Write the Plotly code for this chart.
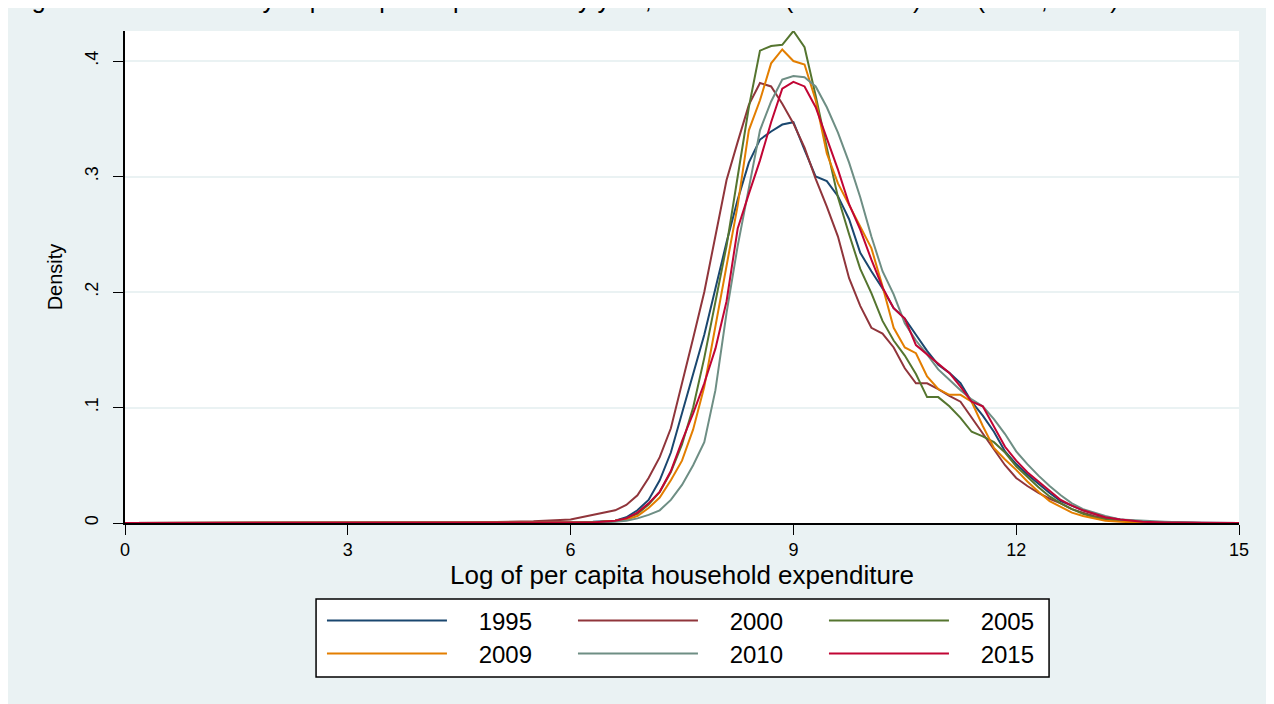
import plotly.graph_objects as go

# log per capita expenditure grid (kdensity evaluation points)
x_grid = [0, 3, 4.5, 5.0, 5.5, 6.0, 6.3, 6.6, 6.75, 6.9, 7.05, 7.2, 7.35, 7.5, 7.65,
          7.8, 7.95, 8.1, 8.25, 8.4, 8.55, 8.7, 8.85, 9.0, 9.15, 9.3, 9.45, 9.6,
          9.75, 9.9, 10.05, 10.2, 10.35, 10.5, 10.65, 10.8, 10.95, 11.1, 11.25,
          11.4, 11.55, 11.7, 11.85, 12.0, 12.15, 12.3, 12.45, 12.6, 12.75, 12.9,
          13.05, 13.2, 13.4, 13.7, 14.0, 14.5, 15]

dens_1995 = [0, 0, 0, 0, 0.0005, 0.0005, 0.001, 0.002, 0.005, 0.011, 0.020, 0.037, 0.061,
             0.095, 0.127, 0.163, 0.203, 0.243, 0.280, 0.312, 0.332, 0.339, 0.345, 0.347,
             0.323, 0.300, 0.296, 0.283, 0.263, 0.234, 0.218, 0.203, 0.186, 0.177, 0.163,
             0.149, 0.137, 0.130, 0.121, 0.105, 0.093, 0.079, 0.062, 0.051, 0.042, 0.034,
             0.026, 0.019, 0.015, 0.011, 0.008, 0.005, 0.003, 0.001, 0.0005, 0, 0]
dens_2000 = [0, 0, 0.0003, 0.0008, 0.0015, 0.003, 0.007, 0.011, 0.0156, 0.024, 0.039, 0.057,
             0.082, 0.120, 0.160, 0.200, 0.250, 0.297, 0.330, 0.362, 0.381, 0.378, 0.363,
             0.346, 0.325, 0.298, 0.274, 0.248, 0.212, 0.188, 0.169, 0.164, 0.152, 0.134,
             0.121, 0.121, 0.116, 0.110, 0.105, 0.091, 0.078, 0.063, 0.050, 0.039, 0.032,
             0.026, 0.021, 0.017, 0.012, 0.009, 0.006, 0.004, 0.002, 0.001, 0.0005, 0, 0]
dens_2005 = [0, 0, 0, 0, 0, 0, 0.0005, 0.002, 0.004, 0.008, 0.016, 0.027, 0.044, 0.068,
             0.100, 0.143, 0.190, 0.240, 0.300, 0.360, 0.409, 0.413, 0.414, 0.426, 0.412,
             0.370, 0.325, 0.282, 0.250, 0.220, 0.199, 0.175, 0.158, 0.145, 0.129, 0.109,
             0.109, 0.101, 0.091, 0.079, 0.075, 0.070, 0.061, 0.049, 0.040, 0.031, 0.023,
             0.017, 0.012, 0.008, 0.005, 0.003, 0.002, 0.001, 0, 0, 0]
dens_2009 = [0, 0, 0, 0, 0, 0, 0.0005, 0.002, 0.003, 0.006, 0.013, 0.022, 0.037, 0.054,
             0.081, 0.118, 0.170, 0.225, 0.275, 0.340, 0.366, 0.398, 0.410, 0.400, 0.397,
             0.366, 0.320, 0.294, 0.275, 0.256, 0.238, 0.205, 0.169, 0.152, 0.147, 0.127,
             0.116, 0.111, 0.111, 0.105, 0.084, 0.065, 0.055, 0.046, 0.036, 0.027, 0.019,
             0.014, 0.009, 0.006, 0.004, 0.002, 0.001, 0.0005, 0, 0, 0]
dens_2010 = [0, 0, 0, 0, 0, 0, 0.0003, 0.001, 0.002, 0.004, 0.007, 0.011, 0.020, 0.033,
             0.050, 0.070, 0.115, 0.182, 0.240, 0.290, 0.340, 0.365, 0.384, 0.387, 0.386,
             0.378, 0.360, 0.338, 0.312, 0.282, 0.248, 0.218, 0.198, 0.173, 0.158, 0.146,
             0.133, 0.124, 0.115, 0.107, 0.101, 0.090, 0.077, 0.062, 0.051, 0.041, 0.032,
             0.024, 0.017, 0.012, 0.009, 0.006, 0.003, 0.002, 0.001, 0, 0]
dens_2015 = [0, 0, 0, 0, 0, 0, 0.0005, 0.002, 0.004, 0.009, 0.017, 0.027, 0.045, 0.071,
             0.095, 0.121, 0.151, 0.192, 0.255, 0.285, 0.314, 0.347, 0.376, 0.382, 0.378,
             0.360, 0.332, 0.306, 0.276, 0.254, 0.228, 0.204, 0.186, 0.177, 0.154, 0.146,
             0.138, 0.130, 0.118, 0.105, 0.101, 0.083, 0.066, 0.054, 0.044, 0.036, 0.028,
             0.020, 0.015, 0.011, 0.008, 0.005, 0.003, 0.001, 0.0005, 0, 0]

years = ["1995", "2000", "2005", "2009", "2010", "2015"]
series = [dens_1995, dens_2000, dens_2005, dens_2009, dens_2010, dens_2015]
colors = ["#1a476f", "#90353b", "#55752f", "#e37e00", "#6e8e84", "#c10534"]
# first three years in the top legend row, the rest in the second
legend_rows = ["legend", "legend", "legend", "legend2", "legend2", "legend2"]

x_ticks = [0, 3, 6, 9, 12, 15]
y_ticks = [0, 0.1, 0.2, 0.3, 0.4]
y_ticktext = ["0", ".1", ".2", ".3", ".4"]

FONT = "Liberation Sans, Arial, sans-serif"
PANEL = "#eaf2f3"
PAD = "\u00a0" * 4  # gap between legend key and label, as in the Stata legend

fig = go.Figure()
for yr, d, c, lg in zip(years, series, colors, legend_rows):
    fig.add_trace(go.Scatter(x=x_grid, y=d, mode="lines", name=PAD + yr, legend=lg,
                             line=dict(color=c, width=2)))

legend_style = dict(
    orientation="h", xanchor="left", yanchor="middle", x=0.1768,
    bgcolor="rgba(0,0,0,0)", borderwidth=0,
    font=dict(size=24), entrywidth=116, entrywidthmode="pixels",
    itemwidth=120, traceorder="normal",
)

fig.update_layout(
    width=1266, height=696,
    margin=dict(l=117, r=35, t=23, b=181),
    paper_bgcolor=PANEL,
    plot_bgcolor="white",
    font=dict(family=FONT, color="black", size=18),
    showlegend=True,
    legend=dict(legend_style, y=-0.1992),
    legend2=dict(legend_style, y=-0.2663),
    annotations=[dict(
        text="Figure 4: Kernel density of per capita expenditure by year, SUSENAS (1995-2010) and (2009, 2015)",
        xref="paper", yref="paper", x=-0.104, y=1.065, xanchor="left", yanchor="middle",
        showarrow=False, font=dict(size=25, family=FONT),
    )],
    shapes=[
        # legend frame
        dict(type="rect", xref="paper", yref="paper", x0=0.1715, x1=0.8295, y0=-0.313, y1=-0.1545,
             fillcolor="white", line=dict(color="black", width=1.5), layer="above"),
    ],
)

fig.update_xaxes(
    range=[0, 15], tickvals=x_ticks, showgrid=False, zeroline=False,
    showline=True, linecolor="black", linewidth=1.5,
    ticks="outside", ticklen=10, tickcolor="black",
    title=dict(text="Log of per capita household expenditure", font=dict(size=26), standoff=5),
)
fig.update_yaxes(
    range=[0, 0.426], tickvals=y_ticks, ticktext=y_ticktext, tickangle=-90,
    showgrid=True, gridcolor=PANEL, gridwidth=1.5, zeroline=False,
    showline=True, linecolor="black", linewidth=1.5,
    ticks="outside", ticklen=10, tickcolor="black", ticklabelstandoff=8,
    title=dict(text="Density", font=dict(size=20), standoff=14),
)

fig.write_html("out.html")
